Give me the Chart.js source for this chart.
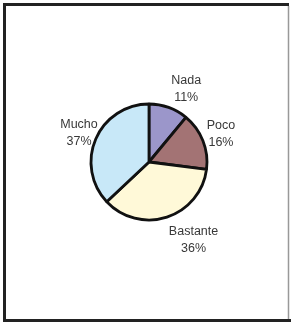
<!DOCTYPE html>
<html>
<head>
<meta charset="utf-8">
<script src="https://cdn.jsdelivr.net/npm/chart.js@4/dist/chart.umd.min.js"></script>
<style>
  html, body { margin: 0; padding: 0; background: #fff; }
  #wrap { width: 291px; height: 322px; position: relative; }
</style>
</head>
<body>
<div id="wrap"><canvas id="myChart" width="291" height="322"></canvas></div>
<script>
// answers to the survey question
var categories = ['Nada', 'Poco', 'Bastante', 'Mucho'];
var values = [11, 16, 36, 37];
var sliceColors = ['#9b96ca', '#a37374', '#fff9d8', '#c8e8f8'];

// small pixel nudges for the label boxes (excel style placement)
var labelNudge = [[9, 5], [-5, 3], [18, -4], [10, 6]];

var total = values.reduce(function (a, b) { return a + b; }, 0);

// frame round the chart
var framePlugin = {
    id: 'frame',
    beforeDraw: function (chart) {
        var c = chart.ctx;
        c.save();
        c.fillStyle = '#fff';
        c.fillRect(0, 0, chart.width, chart.height);
        c.strokeStyle = '#222';
        c.lineWidth = 3;
        c.beginPath();
        c.moveTo(4.5, 320.5);
        c.lineTo(4.5, 4.5);
        c.lineTo(289, 4.5);
        c.stroke();
        c.beginPath();
        c.moveTo(3, 320.5);
        c.lineTo(291, 320.5);
        c.stroke();
        c.strokeStyle = '#999';
        c.lineWidth = 1.5;
        c.beginPath();
        c.moveTo(288.5, 6);
        c.lineTo(288.5, 319);
        c.stroke();
        c.restore();
    }
};

// category name and percent outside each slice
var outsideLabels = {
    id: 'outsideLabels',
    afterDatasetsDraw: function (chart) {
        var c = chart.ctx;
        var meta = chart.getDatasetMeta(0);
        c.save();
        c.font = '12.5px "Liberation Sans", Arial, sans-serif';
        c.fillStyle = '#383838';
        c.textAlign = 'center';
        c.textBaseline = 'middle';
        meta.data.forEach(function (arc, i) {
            var mid = (arc.startAngle + arc.endAngle) / 2;
            var pct = Math.round(values[i] / total * 100) + '%';
            var w = Math.max(c.measureText(categories[i]).width, c.measureText(pct).width);
            var h = 30;
            var cos = Math.cos(mid), sin = Math.sin(mid);
            var ext = Math.abs(w / 2 * cos) + Math.abs(h / 2 * sin);
            var d = arc.outerRadius + 6 + ext;
            var x = arc.x + d * cos + labelNudge[i][0];
            var y = arc.y + d * sin + labelNudge[i][1];
            c.fillText(categories[i], x, y - 8.5);
            c.fillText(pct, x, y + 8.5);
        });
        c.restore();
    }
};

var ctx = document.getElementById('myChart').getContext('2d');
var myChart = new Chart(ctx, {
    type: 'pie',
    data: {
        labels: categories,
        datasets: [{
            data: values,
            backgroundColor: sliceColors,
            borderColor: '#111',
            borderWidth: 2.8,
            radius: 58
        }]
    },
    options: {
        responsive: false,
        animation: false,
        layout: { padding: { left: 7, right: 0, top: 2, bottom: 0 } },
        plugins: {
            legend: { display: false },
            tooltip: { enabled: false }
        }
    },
    plugins: [framePlugin, outsideLabels]
});
</script>
</body>
</html>
